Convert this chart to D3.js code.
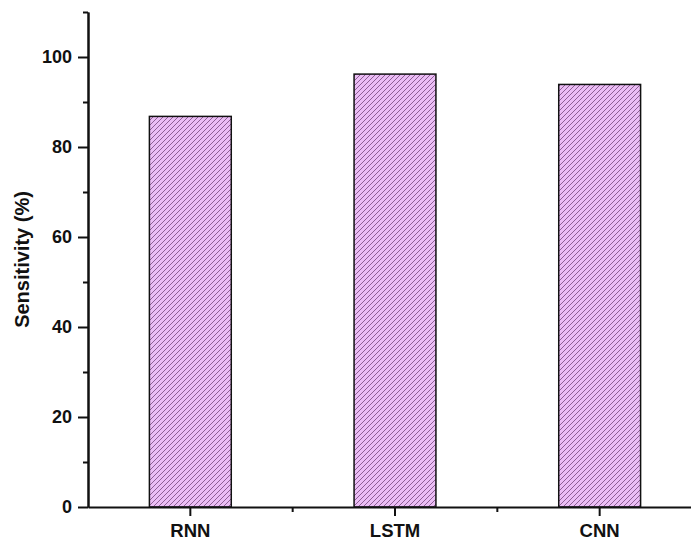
<!DOCTYPE html>
<html>
<head>
<meta charset="utf-8">
<script src="https://cdn.jsdelivr.net/npm/d3@7"></script>
<style>
  body { margin: 0; background: #fff; }
  text { font-family: "Liberation Sans", Arial, sans-serif; font-weight: bold; }
</style>
</head>
<body>
<div id="chart"></div>
<script>
// datos
const models = ["RNN", "LSTM", "CNN"]
const sensitivity = [86.8, 96.2, 93.9]
const yTicks = [0, 20, 40, 60, 80, 100]
const yMinorTicks = [10, 30, 50, 70, 90, 110]

const width = 691
const height = 542
const margin = { top: 12, bottom: 35, right: -11, left: 88 }

const svg = d3.select("div#chart").append("svg").attr("width", width).attr("height", height)

// patrón rayado "/"
const s = 5
const defs = svg.append("defs")
const pat = defs.append("pattern")
    .attr("id", "hatch")
    .attr("patternUnits", "userSpaceOnUse")
    .attr("width", s).attr("height", s)
pat.append("rect").attr("width", s).attr("height", s).attr("fill", "#ebbdf5")
pat.append("path")
    .attr("d", `M0,${s} L${s},0 M-1,1 L1,-1 M${s - 1},${s + 1} L${s + 1},${s - 1}`)
    .attr("stroke", "#8d5f95").attr("stroke-width", 1)

const innerW = width - margin.left - margin.right
const innerH = height - margin.top - margin.bottom

const x = d3.scaleBand().domain(models).range([0, innerW]).paddingInner(0.6).paddingOuter(0.3)
const y = d3.scaleLinear().domain([0, 110]).range([innerH, 0])

const g = svg.append("g").attr("transform", `translate(${margin.left}, ${margin.top})`)

// barras
g.selectAll("rect.bar").data(models).join("rect")
    .attr("class", "bar")
    .attr("x", d => x(d))
    .attr("y", (d, i) => y(sensitivity[i]))
    .attr("width", x.bandwidth())
    .attr("height", (d, i) => y(0) - y(sensitivity[i]))
    .attr("fill", "url(#hatch)")
    .attr("stroke", "#111")
    .attr("stroke-width", 1.5)

// eje y
const yAxis = d3.axisLeft(y).tickValues(yTicks).tickSize(10).tickPadding(6).tickSizeOuter(0)
const yAxisGroup = g.append("g").call(yAxis)
yAxisGroup.selectAll("text").style("font-size", "18px").attr("fill", "#111")
const yMinor = g.append("g").call(d3.axisLeft(y).tickValues(yMinorTicks).tickSize(5).tickFormat("").tickSizeOuter(0))

// eje x
const xAxisGroup = g.append("g").attr("transform", `translate(0, ${innerH})`)
    .call(d3.axisBottom(x).tickSize(9).tickPadding(8).tickSizeOuter(0))
xAxisGroup.selectAll("text").style("font-size", "18.5px").attr("fill", "#111")
const step = x.step()
const minorX = models.slice(1).map(d => x(d) - x.paddingInner() * step / 2)
xAxisGroup.selectAll("line.minor").data(minorX).join("line")
    .attr("class", "minor")
    .attr("x1", d => d).attr("x2", d => d)
    .attr("y1", 0).attr("y2", 5)

g.selectAll(".domain, .tick line, line.minor").attr("stroke", "#111").attr("stroke-width", 2)

// título eje y
svg.append("text")
    .attr("transform", `translate(24, ${margin.top + y(55)}) rotate(-90)`)
    .attr("text-anchor", "middle")
    .attr("dominant-baseline", "middle")
    .style("font-size", "20px")
    .attr("fill", "#111")
    .text("Sensitivity (%)")
</script>
</body>
</html>
